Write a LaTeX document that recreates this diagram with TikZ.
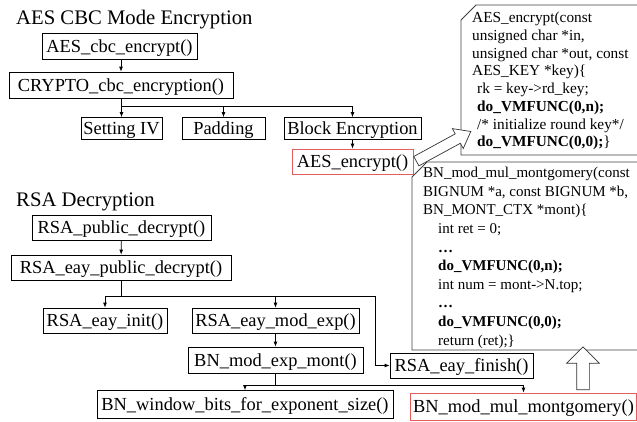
\documentclass[tikz,border=0pt]{standalone}
\usepackage{fontspec}
\setmainfont{Liberation Serif}
\usetikzlibrary{arrows.meta, positioning, shapes.arrows}
\definecolor{hotred}{RGB}{228,92,92}
\begin{document}
\begin{tikzpicture}[x=1pt, y=-1pt,
    fn/.style={draw, line width=0.8pt, inner sep=0pt, text height=16pt, text depth=3.5pt,
      font=\fontsize{18.4}{20}\selectfont},
    hot/.style={fn, draw=hotred},
    wire/.style={line width=0.8pt},
    arr/.style={wire, -{Latex[length=5pt,width=4pt]}},
    title/.style={anchor=base west, inner sep=0pt, font=\fontsize{20.7}{23}\selectfont},
    code/.style={anchor=north west, inner sep=0pt, align=left},
    callout/.style={draw=black!75, line width=0.8pt},
    fatarrow/.style={single arrow, draw=black!80, fill=white, line width=0.7pt}]
    \useasboundingbox (0,0) rectangle (637,421);

    % AES CBC Mode Encryption
    \node[title] (aestitle) at (16,24) {AES CBC Mode Encryption};
    \node[fn, minimum width=155pt, minimum height=26pt] (aescbc) at (119.5,46) {AES\_cbc\_encrypt()};
    \node[fn, minimum width=224pt, minimum height=26pt] (crypto) at (121,85) {CRYPTO\_cbc\_encryption()};
    \node[fn, minimum width=81pt, minimum height=22pt] (setiv) at (121.5,128.5) {Setting IV};
    \node[fn, minimum width=83pt, minimum height=22pt] (padding) at (223.5,128.5) {Padding};
    \node[fn, minimum width=137pt, minimum height=22pt] (blockenc) at (352.5,128.5) {Block Encryption};
    \node[hot, minimum width=121pt, minimum height=25pt] (aesenc) at (352.5,161.5) {AES\_encrypt()};

    \coordinate (aesbus) at (121.5,106);
    \draw[arr] (aescbc.south -| crypto.north) -- (crypto.north);
    \draw[wire] (crypto.south -| aesbus) -- (aesbus);
    \draw[arr] (aesbus) -- (setiv.north);
    \draw[arr] (aesbus) -| (padding.north);
    \draw[arr] (aesbus) -| (blockenc.north);
    \draw[arr] (blockenc) -- (aesenc);

    % RSA Decryption
    \node[title] (rsatitle) at (16,206) {RSA Decryption};
    \node[fn, minimum width=179pt, minimum height=25pt] (rsapub) at (121.5,227.5) {RSA\_public\_decrypt()};
    \node[fn, minimum width=220pt, minimum height=25pt] (rsaeay) at (121,267.5) {RSA\_eay\_public\_decrypt()};
    \node[fn, minimum width=124pt, minimum height=25pt] (rsainit) at (105,320.5) {RSA\_eay\_init()};
    \node[fn, minimum width=167pt, minimum height=25pt] (rsamod) at (275.5,320.5) {RSA\_eay\_mod\_exp()};
    \node[fn, minimum width=175pt, minimum height=26pt] (bnexp) at (275.5,360) {BN\_mod\_exp\_mont()};
    \node[fn, minimum width=143pt, minimum height=25pt] (rsafin) at (461.5,365.5) {RSA\_eay\_finish()};
    \node[fn, minimum width=296pt, minimum height=28pt] (bnwin) at (245,404.5) {BN\_window\_bits\_for\_exponent\_size()};
    \node[hot, minimum width=226pt, minimum height=27pt] (bnmul) at (523.5,406.5) {BN\_mod\_mul\_montgomery()};

    \coordinate (rsabus) at (121,296);
    \coordinate (finbend) at (375,296);
    \coordinate (bnbus) at (275.5,385);
    \draw[arr] (rsapub) -- (rsaeay);
    \draw[wire] (rsaeay.south) -- (rsabus);
    \draw[arr] (rsabus) -| (rsainit.north);
    \draw[arr] (rsabus) -| (rsamod.north);
    \draw[arr] (rsabus) -- (finbend) |- (rsafin.west);
    \draw[arr] (rsamod) -- (bnexp);
    \draw[wire] (bnexp.south) -- (bnbus);
    \draw[arr] (bnbus) -| (bnwin.north);
    \draw[arr] (bnbus) -| (bnmul.north);

    % code call-outs
    \draw[callout] (637,5) -- (476,5) -- (461,20) -- (461,155) -- (637,155);
    \node[code, font=\fontsize{15.3}{17.7}\selectfont] (aescode) at (472,12) {AES\_encrypt(const\\
      unsigned char *in,\\
      unsigned char *out, const\\
      AES\_KEY *key)\{\\
      \hspace*{5pt}rk = key->rd\_key;\\
      \hspace*{5pt}\textbf{do\_VMFUNC(0,n);}\\
      \hspace*{5pt}/* initialize round key*/\\
      \hspace*{5pt}\textbf{do\_VMFUNC(0,0);}\}};

    \draw[callout] (637,162) -- (427,162) -- (412,177) -- (412,350) -- (637,350);
    \node[code, font=\fontsize{15}{18.6}\selectfont] (bncode) at (423,167) {BN\_mod\_mul\_montgomery(const\\
      BIGNUM *a, const BIGNUM *b,\\
      BN\_MONT\_CTX *mont)\{\\
      \hspace*{15pt}int ret = 0;\\
      \hspace*{15pt}\textbf{…}\\
      \hspace*{15pt}\textbf{do\_VMFUNC(0,n);}\\
      \hspace*{15pt}int num = mont->N.top;\\
      \hspace*{15pt}\textbf{…}\\
      \hspace*{15pt}\textbf{do\_VMFUNC(0,0);}\\
      \hspace*{15pt}return (ret);\}};

    % hollow arrows
    \node[fatarrow, minimum height=62pt, inner sep=5pt, single arrow head extend=6pt,
      single arrow tip angle=75, rotate=28.6] (aesarrow) at (440.5,148) {};
    \node[fatarrow, minimum height=43pt, inner sep=6pt, single arrow head extend=10pt,
      rotate=90] (bnarrow) at (583,371.5) {};
\end{tikzpicture}
\end{document}
